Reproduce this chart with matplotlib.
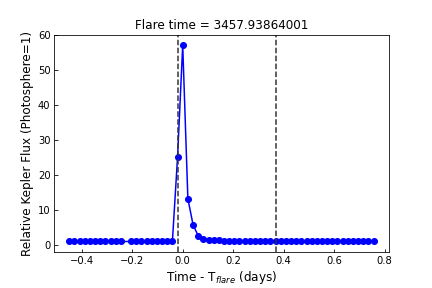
import matplotlib
matplotlib.use('Agg')
import matplotlib.pyplot as plt

# Time relative to flare peak (days), Kepler long cadence
times = [-0.4495, -0.4290, -0.4086, -0.3882, -0.3677, -0.3473, -0.3269, -0.3065,
         -0.2860, -0.2656, -0.2452, -0.2043, -0.1839, -0.1634, -0.1430, -0.1226,
         -0.1022, -0.0817, -0.0613, -0.0409, -0.0204, 0.0000, 0.0204, 0.0409,
         0.0613, 0.0817, 0.1022, 0.1226, 0.1430, 0.1634, 0.1839, 0.2043,
         0.2247, 0.2452, 0.2656, 0.2860, 0.3065, 0.3269, 0.3473, 0.3677,
         0.3882, 0.4086, 0.4290, 0.4495, 0.4699, 0.4903, 0.5108, 0.5312,
         0.5516, 0.5721, 0.5925, 0.6129, 0.6334, 0.6538, 0.6742, 0.6946,
         0.7151, 0.7355, 0.7559]

# Relative flux (photosphere = 1)
flux = [1.0, 1.0, 1.0, 1.0, 1.0, 1.0, 1.0, 1.0,
        1.0, 1.0, 1.0, 1.0, 1.0, 1.0, 1.0, 1.0,
        1.0, 1.0, 1.0, 1.0, 25.1, 57.0, 13.2, 5.8,
        2.6, 1.8, 1.5, 1.35, 1.3, 1.25, 1.25, 1.25,
        1.25, 1.25, 1.25, 1.2, 1.2, 1.2, 1.15, 1.0,
        1.0, 1.0, 1.0, 1.0, 1.0, 1.0, 1.0, 1.0,
        1.0, 1.0, 1.0, 1.0, 1.0, 1.0, 1.0, 1.0,
        1.0, 1.0, 1.0]

flare_start = -0.0204
flare_stop = 0.3677
flare_time = 3457.93864001

fig, ax = plt.subplots(figsize=(6, 4), dpi=72)
fig.subplots_adjust(left=0.125, right=0.9, top=0.88, bottom=0.125)

ax.plot(times, flux, 'o-', color='b', markersize=6, linewidth=1.5)
ax.axvline(flare_start, color='0.2', linestyle='--', linewidth=1.5)
ax.axvline(flare_stop, color='0.2', linestyle='--', linewidth=1.5)

ax.set_ylim(-2, 60)
ax.tick_params(direction='in', top=False, right=False)
ax.set_xlabel('Time - T$_{flare}$ (days)', fontsize=12)
ax.set_ylabel('Relative Kepler Flux (Photosphere=1)', fontsize=12)
ax.set_title('Flare time = ' + str(flare_time))

fig.savefig('out.png')
